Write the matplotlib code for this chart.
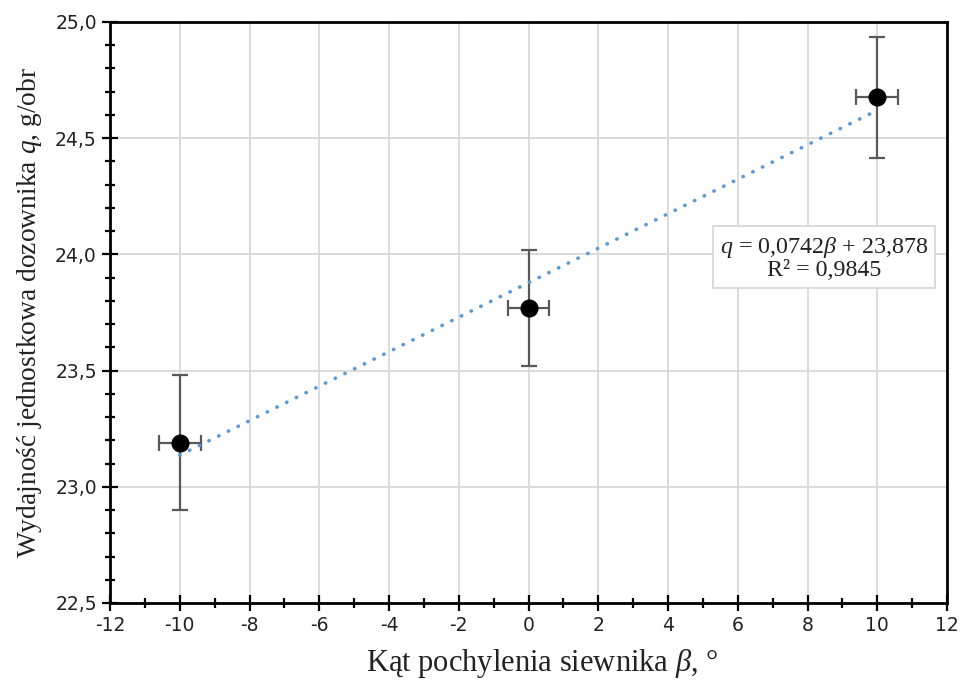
import matplotlib
matplotlib.use("Agg")
import matplotlib.pyplot as plt
import numpy as np
from matplotlib.ticker import MultipleLocator, FuncFormatter

plt.rcParams['mathtext.fontset'] = 'custom'
plt.rcParams['mathtext.rm'] = 'Liberation Serif'
plt.rcParams['mathtext.it'] = 'Liberation Serif:italic'

# Measurements: tilt angle vs. unit output
beta = [-10, 0, 10]
q_mean = [23.19, 23.77, 24.675]
q_err = [0.29, 0.25, 0.26]
beta_err = [0.6, 0.6, 0.6]

# Linear fit reported on the chart
slope = 0.0742
intercept = 23.878
r2 = 0.9845

fig = plt.figure(figsize=(9.6, 6.86), dpi=100)
ax = fig.add_axes([0.1146, 0.121, 0.8719, 0.847])

ax.set_xlim(-12, 12)
ax.set_ylim(22.5, 25.0)

ax.xaxis.set_major_locator(MultipleLocator(2))
ax.xaxis.set_minor_locator(MultipleLocator(1))
ax.yaxis.set_major_locator(MultipleLocator(0.5))
ax.yaxis.set_minor_locator(MultipleLocator(0.1))
ax.grid(True, which='major', color='#d9d9d9', linewidth=1.3, zorder=0)
ax.set_axisbelow(True)

ax.tick_params(which='major', direction='inout', length=11, width=1.6, labelsize=13.5, pad=4)
ax.tick_params(which='minor', direction='inout', length=7.5, width=1.6)
ax.xaxis.set_major_formatter(FuncFormatter(lambda v, p: f"{v:.0f}"))
ax.yaxis.set_major_formatter(FuncFormatter(lambda v, p: f"{v:.1f}".replace('.', ',')))
for lbl in ax.get_xticklabels() + ax.get_yticklabels():
    lbl.set_color('#222222')

for s in ax.spines.values():
    s.set_linewidth(2.0)
    s.set_color('black')

ax.errorbar(beta, q_mean, yerr=q_err, xerr=beta_err, fmt='none',
            ecolor='#595959', elinewidth=1.6, capsize=6, capthick=1.6, zorder=3)
ax.plot(beta, q_mean, 'o', color='black', markersize=12, zorder=4)

xf = np.array([min(beta), max(beta)])
ax.plot(xf, slope * xf + intercept, color='#5B9BD5', linewidth=2.6,
        linestyle=(0, (0.1, 2.9)), dash_capstyle='round', zorder=5)

eq = ("$q$ = " + f"{slope:.4f}".replace('.', ',') + r"$\beta$ + "
      + f"{intercept:.3f}".replace('.', ',') + "\nR² = " + f"{r2:.4f}".replace('.', ','))
ax.text(8.47, 23.985, eq, ha='center', va='center', multialignment='center',
        fontsize=17.3, family='Liberation Serif', color='#222222', linespacing=1.0,
        bbox=dict(boxstyle='square,pad=0.3', facecolor='white', edgecolor='#d9d9d9', linewidth=1.3),
        zorder=6)

ax.set_xlabel(r"Kąt pochylenia siewnika $\beta$, °", family='Liberation Serif',
              fontsize=22, color='#222222')
ax.xaxis.set_label_coords(0.516, -0.075)
ax.set_ylabel(r"Wydajność jednostkowa dozownika $q$, g/obr", family='Liberation Serif',
              fontsize=19.8, color='#222222', labelpad=8)

fig.savefig("out.png", dpi=100)
